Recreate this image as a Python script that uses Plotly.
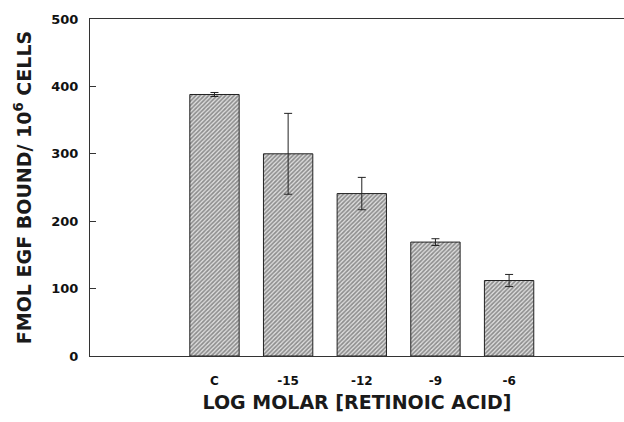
import plotly.graph_objects as go

# EGF binding vs retinoic acid concentration
categories = ["C", "-15", "-12", "-9", "-6"]
bound = [388, 300, 241, 169, 112]
err = [3, 60, 24, 5, 9]
y_ticks = [0, 100, 200, 300, 400, 500]

positions = list(range(len(categories)))

fig = go.Figure()
fig.add_trace(go.Bar(
    x=positions,
    y=bound,
    width=0.67,
    marker=dict(
        color="white",
        line=dict(color="#222222", width=1),
        pattern=dict(shape="/", fgcolor="#3a3a3a", bgcolor="#e0e0e0",
                     size=3, solidity=0.55),
    ),
    error_y=dict(type="data", array=err, visible=True,
                 color="#222222", thickness=1, width=4),
    showlegend=False,
))

font_family = "DejaVu Sans, Verdana, sans-serif"

fig.update_layout(
    width=624, height=422,
    margin=dict(l=90, r=0, t=19, b=66),
    paper_bgcolor="white", plot_bgcolor="white",
    font=dict(family=font_family, color="#111111"),
    xaxis=dict(
        range=[-1.69, 5.56],
        tickvals=positions,
        ticktext=["<b>%s</b>" % c for c in categories],
        tickfont=dict(size=12),
        ticks="", ticklabelstandoff=14,
        showline=True, linecolor="#333333", linewidth=1, mirror=True,
        showgrid=False, zeroline=False,
        title=dict(text="<b>LOG MOLAR [RETINOIC ACID]</b>",
                   font=dict(size=19, color="#1a1a1a"), standoff=8),
    ),
    yaxis=dict(
        range=[0, 500],
        tickvals=y_ticks,
        ticktext=["<b>%d</b>" % v for v in y_ticks],
        tickfont=dict(size=13),
        ticks="inside", ticklen=6, tickcolor="#333333",
        ticklabelstandoff=8,
        showline=True, linecolor="#333333", linewidth=1,
        showgrid=False, zeroline=False,
        title=dict(text="<b>FMOL EGF BOUND/ 10<sup>6</sup> CELLS</b>",
                   font=dict(size=19, color="#1a1a1a"), standoff=14),
    ),
)

fig.write_html("out.html")
